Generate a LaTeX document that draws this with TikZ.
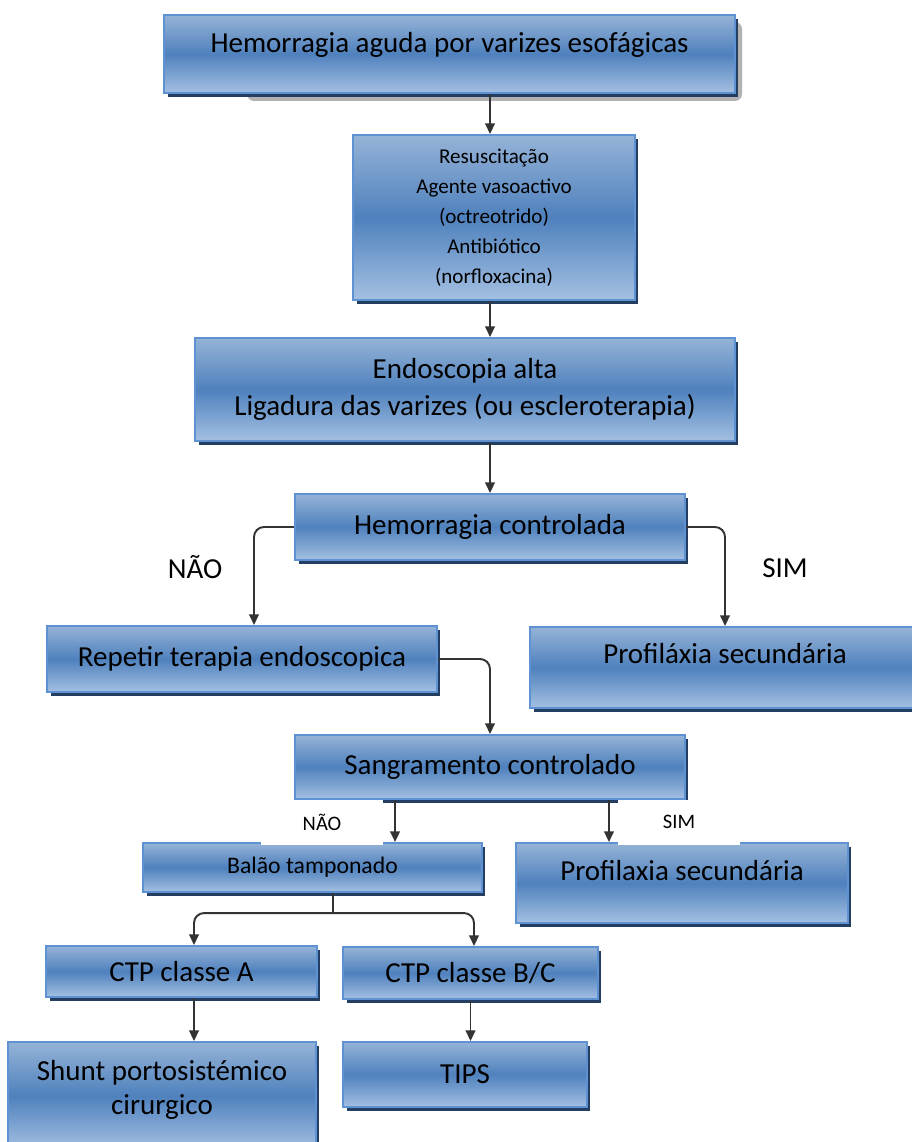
\documentclass[tikz,border=0pt]{standalone}
\usepackage{fontspec}
\setmainfont{Carlito}
\usepackage{tikz}
\usetikzlibrary{positioning}
\usetikzlibrary{shadows,arrows.meta}
\definecolor{boxtop}{HTML}{95B3D7}
\definecolor{boxmid}{HTML}{4F81BD}
\definecolor{boxbot}{HTML}{A4C0E2}
\definecolor{boxline}{HTML}{5E92D2}
\definecolor{boxshadow}{HTML}{233E60}
\definecolor{arrowgray}{HTML}{333333}

\begin{document}
\begin{tikzpicture}
                [x=0.02cm, y=-0.02cm,
                box/.style = {draw=boxline, line width=1.2pt, top color=boxtop, bottom color=boxbot, middle color=boxmid, inner sep=2pt, align=center, font=\fontsize{16.5}{19.3}\selectfont, drop shadow={shadow xshift=0.07cm, shadow yshift=-0.08cm, fill=boxshadow, opacity=1}},
                smallbox/.style = {box, font=\fontsize{12}{17}\selectfont},
                lbl/.style = {fill=white, font=\fontsize{16.5}{19.3}\selectfont},
                smalllbl/.style = {fill=white, font=\fontsize{11.7}{14}\selectfont, minimum width=2.44cm, minimum height=0.9cm},
                arr/.style = {draw=arrowgray, line width=1.1pt, -{Triangle[length=6pt,width=5.5pt]}, rounded corners=0.2cm},
                line/.style = {draw=arrowgray, line width=1.1pt}]
                \useasboundingbox (0,0) rectangle (912,1142);
                \clip (0,0) rectangle (912,1142);
                % Soft shadow behind the first box
                \fill[gray!60, rounded corners=4pt] (247,22) rectangle (742,101);
                % Steps
                \node[box, text height=0.38cm, text depth=0.42cm, minimum width=11.42cm, minimum height=1.56cm] (hav) at (449.5,54) {Hemorragia aguda por varizes esofágicas};
                \node[smallbox, minimum width=5.64cm, minimum height=3.3cm] (res) at (494,217.5) {Resuscitação\\Agente vasoactivo\\(octreotrido)\\Antibiótico\\(norfloxacina)};
                \node[box, font=\fontsize{16.5}{21}\selectfont, minimum width=10.8cm, minimum height=2.06cm] (endo) at (465,389.5) {Endoscopia alta\\Ligadura das varizes (ou escleroterapia)};
                \node[box, minimum width=7.8cm, minimum height=1.32cm] (hc) at (490,527) {Hemorragia controlada};
                \node[box, minimum width=7.8cm, minimum height=1.32cm] (rep) at (242,659) {Repetir terapia endoscopica};
                \node[box, text height=0.38cm, text depth=0.54cm, minimum width=7.8cm, minimum height=1.62cm] (pro1) at (725,667.5) {Profiláxia secundária};
                \node[box, minimum width=7.8cm, minimum height=1.28cm] (san) at (490,767) {Sangramento controlado};
                \node[box, font=\fontsize{13.5}{16}\selectfont, minimum width=6.78cm, minimum height=0.98cm] (bal) at (312.5,867.5) {Balão tamponado};
                \node[box, text height=0.38cm, text depth=0.5cm, minimum width=6.64cm, minimum height=1.6cm] (pro2) at (682,883) {Profilaxia secundária};
                \node[box, minimum width=5.42cm, minimum height=1.02cm] (ctpa) at (181.5,971.5) {CTP classe A};
                \node[box, minimum width=5.1cm, minimum height=1.04cm] (ctpb) at (470.5,973) {CTP classe B/C};
                \node[box, text depth=0.36cm, minimum width=6.16cm, minimum height=2.16cm] (shunt) at (162,1096) {Shunt portosistémico\\cirurgico};
                \node[box, minimum width=4.88cm, minimum height=1.3cm] (tips) at (465,1074.5) {TIPS};

                % Arrows
                \draw[arr] ([xshift=-0.08cm]hav.south -| res.north) -- ([xshift=-0.08cm]res.north);
                \draw[arr] ([xshift=-0.08cm]res.south) -- ([xshift=-0.08cm]res.south |- endo.north);
                \draw[arr] (hc.north |- endo.south) -- (hc.north);
                \draw[arr] (hc.west) -| ([xshift=0.24cm]rep.north);
                \draw[arr] (hc.east) -| (pro1.north);
                \draw[arr] (rep.east) -| (san.north);
                \draw[arr] ([xshift=-1.9cm]san.south) -- ([xshift=-1.9cm]san.south |- bal.north);
                \draw[arr] ([xshift=2.38cm]san.south) -- ([xshift=2.38cm]san.south |- pro2.north);
                \draw[line] ([xshift=0.41cm]bal.south) -- ++(0,20) coordinate (fork);
                \draw[arr] (fork) -| ([xshift=0.25cm]ctpa.north);
                \draw[arr] (fork) -| ([xshift=0.07cm]ctpb.north);
                \draw[arr] ([xshift=0.25cm]ctpa.south) -- ([xshift=0.25cm]ctpa.south |- shunt.north);
                \draw[arr] (ctpb.south) -- (ctpb.south |- tips.north);

                % Answers
                \node[lbl] (nao1) at (195,567) {NÃO};
                \node[lbl] (sim1) at (785,568) {SIM};
                \node[smalllbl] (nao2) at (322,822) {NÃO};
                \node[smalllbl] (sim2) at (679,822) {SIM};
            \end{tikzpicture}
\end{document}
